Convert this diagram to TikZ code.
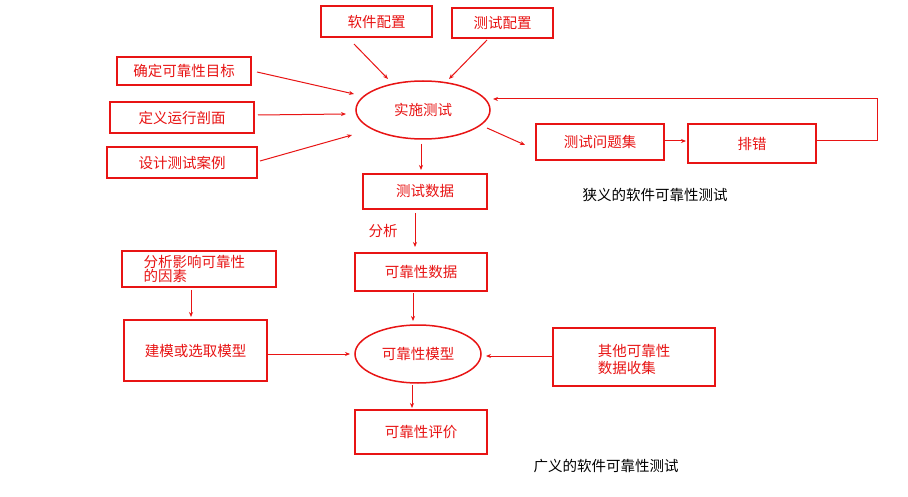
\documentclass[tikz,border=0pt]{standalone}
\usepackage{fontspec}
\setmainfont{Noto Sans CJK SC}
\usetikzlibrary{shapes.geometric,arrows.meta}
\definecolor{rd}{RGB}{232,20,20}
\begin{document}
\begin{tikzpicture}[x=1pt,y=-1pt,
  box/.style={draw=rd,line width=1.5pt,text=rd,font=\fontsize{14.5}{16}\selectfont,inner sep=0pt},
  ell/.style={ellipse,draw=rd,line width=1.5pt,text=rd,font=\fontsize{14.5}{16}\selectfont,inner sep=0pt},
  ar/.style={draw=rd,line width=1pt,-{Stealth[length=5pt,width=4pt]}},
  lbl/.style={text=rd,font=\fontsize{14.5}{16}\selectfont}]
\useasboundingbox[fill=white] (0,0) rectangle (908,497);
\def\bx#1#2#3#4#5#6{\node[box,minimum width=#4-#2,minimum height=#5-#3] (#1) at ({(#2+#4)/2},{(#3+#5)/2}) {#6};}
\bx{sw}{321}{6}{432}{37}{软件配置}
\bx{tc}{452}{8}{553}{38}{测试配置}
\bx{g}{117}{57}{251}{85}{确定可靠性目标}
\bx{op}{110}{102}{254}{133}{定义运行剖面}
\bx{dc}{107}{147}{257}{178}{设计测试案例}
\node[ell,minimum width=134,minimum height=58] (impl) at (423,110) {实施测试};
\bx{pb}{536}{124}{664}{160}{测试问题集}
\bx{dbg}{688}{124}{816}{163}{排错}
\bx{td}{363}{174}{487}{209}{测试数据}
\node[lbl] (fx) at (383,231) {分析};
\bx{rd}{355}{253}{487}{291}{可靠性数据}
\bx{fa}{122}{251}{276}{287}{}
\node[lbl,align=left,anchor=west,font=\fontsize{14.5}{14}\selectfont] (fat) at (140,269) {分析影响可靠性\\的因素};
\bx{mdl}{124}{320}{267}{381}{建模或选取模型}
\node[ell,minimum width=126,minimum height=58] (rm) at (418,354) {可靠性模型};
\bx{oth}{553}{328}{715}{386}{}
\node[lbl,align=left,font=\fontsize{14.5}{17}\selectfont] (otht) at (634,360) {其他可靠性\\数据收集};
\bx{ev}{355}{410}{487}{454}{可靠性评价}
\node[font=\fontsize{14.5}{16}\selectfont] (n1) at (655,195) {狭义的软件可靠性测试};
\node[font=\fontsize{14.5}{16}\selectfont] (n2) at (606,466) {广义的软件可靠性测试};
\coordinate (a1) at (354,44); \coordinate (b1) at (388,79);
\coordinate (a2) at (487,40); \coordinate (b2) at (449,79);
\coordinate (a3) at (257,72); \coordinate (b3) at (354,94);
\coordinate (a4) at (258,115); \coordinate (b4) at (346,114);
\coordinate (a5) at (260,161); \coordinate (b5) at (352,135);
\coordinate (a6) at (487,128); \coordinate (b6) at (525,145);
\draw[ar] (a1)--(b1); \draw[ar] (a2)--(b2); \draw[ar] (a3)--(b3);
\draw[ar] (a4)--(b4); \draw[ar] (a5)--(b5); \draw[ar] (a6)--(b6);
\draw[ar] (664,141)--(686,141);
\draw[ar] (816,141)--(877,141)--(877,99)--(493,99);
\draw[ar] (421,144)--(421,170);
\draw[ar] (415,213)--(415,247);
\draw[ar] (413,293)--(413,321);
\draw[ar] (191,290)--(191,317);
\draw[ar] (268,354)--(350,354);
\draw[ar] (552,356)--(486,356);
\draw[ar] (412,385)--(412,408);
\end{tikzpicture}
\end{document}
